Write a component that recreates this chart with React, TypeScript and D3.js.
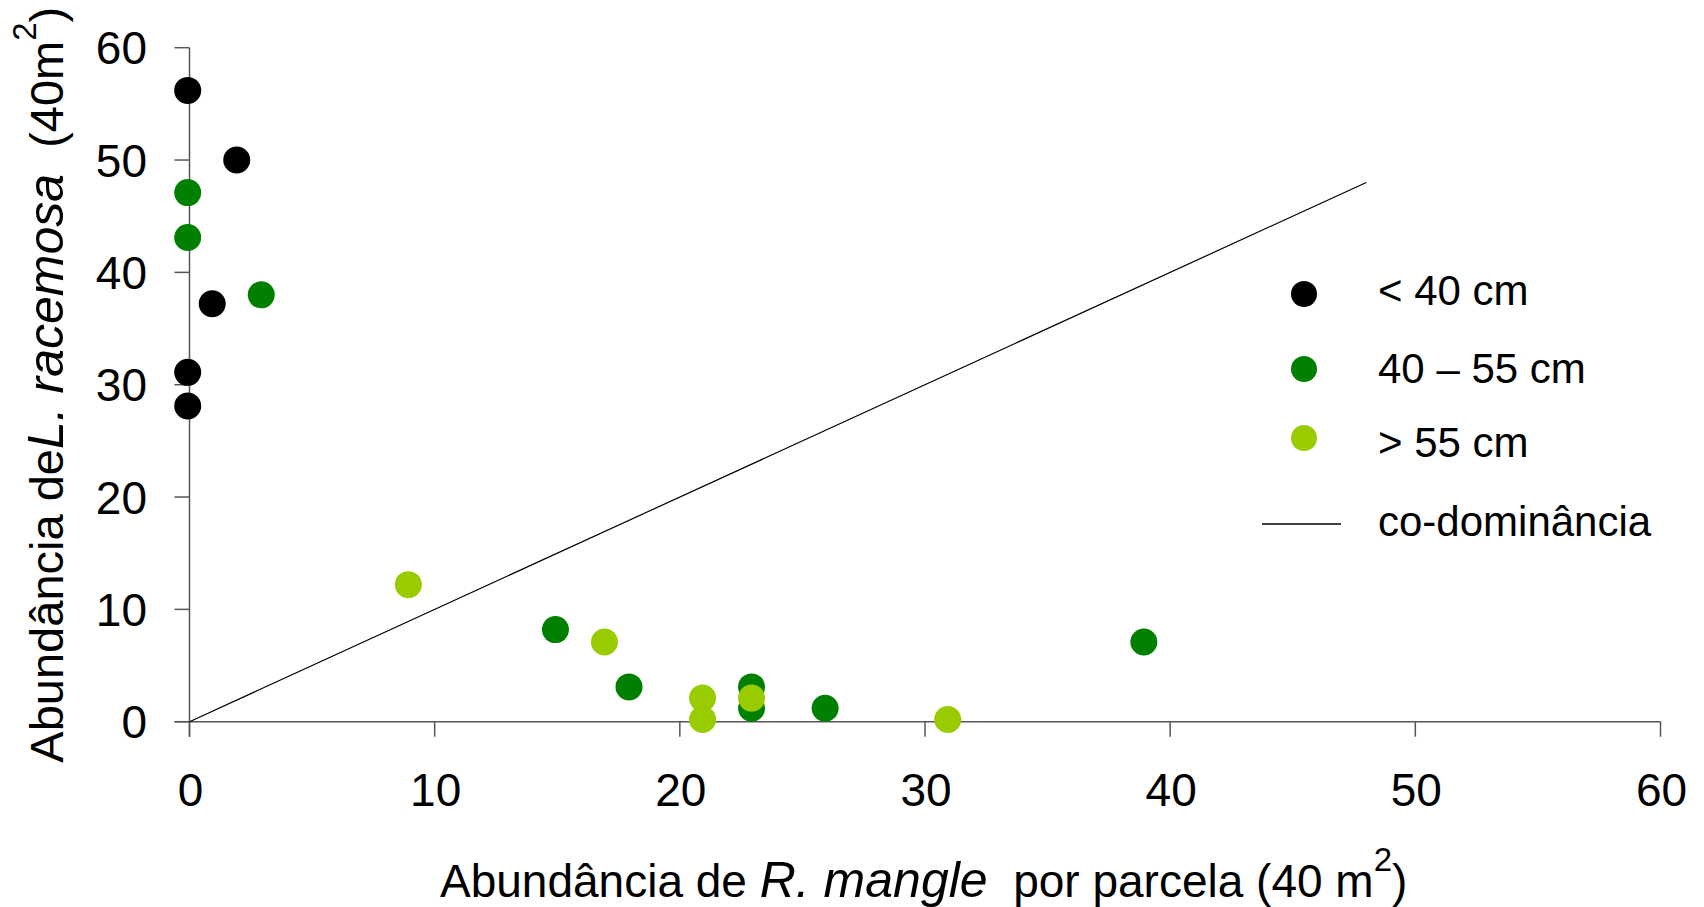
import React from "react";
import * as d3 from "d3";

const xTicks = [0, 10, 20, 30, 40, 50, 60];
const yTicks = [0, 10, 20, 30, 40, 50, 60];

// < 40 cm
const smallX = [0, 2, 1, 0, 0];
const smallY = [56.2, 50.0, 37.2, 31.1, 28.1];
// 40 – 55 cm
const midX = [0, 0, 3, 15, 18, 23, 23, 26, 39];
const midY = [47.1, 43.1, 38.0, 8.2, 3.1, 3.1, 1.2, 1.2, 7.1];
// > 55 cm
const largeX = [9, 17, 21, 21, 23, 31];
const largeY = [12.2, 7.1, 2.1, 0.2, 2.1, 0.2];

const lineX = [0, 48];
const lineY = [0, 48];

const seriesNames = ["< 40 cm", "40 \u2013 55 cm", "> 55 cm"];
const seriesColors = ["#000000", "#008000", "#99CC00"];
const lineName = "co-dominância";

const W = 1704;
const H = 907;
const FONT = "'Liberation Sans', Arial, Helvetica, sans-serif";

export default function App() {
  const x = d3.scaleLinear().domain([0, 60]).range([189.5, 1660.5]);
  const y = d3.scaleLinear().domain([0, 60]).range([721.7, 47.7]);
  const r = 13.5;
  const markerShift = -1.8;

  const series = [
    { xs: smallX, ys: smallY },
    { xs: midX, ys: midY },
    { xs: largeX, ys: largeY },
  ];

  const line = d3
    .line<number>()
    .x((_, i) => x(lineX[i]))
    .y((_, i) => y(lineY[i]));

  const axisColor = "#555";
  const legendY = [294, 369, 438];
  const legendTextY = [305, 383, 457];

  return (
    <svg
      width={W}
      height={H}
      style={{ position: "absolute", left: 0, top: 0, background: "#fff" }}
      fontFamily={FONT}
    >
      <rect x={0} y={0} width={W} height={H} fill="#fff" />
      {/* axes */}
      <line x1={x(0)} x2={x(0)} y1={y(60)} y2={y(0) + 15} stroke={axisColor} strokeWidth={1.5} />
      <line x1={x(0) - 15} x2={x(60)} y1={y(0)} y2={y(0)} stroke={axisColor} strokeWidth={1.5} />
      {yTicks.map((t) => (
        <g key={"yt" + t}>
          <line x1={x(0) - 15} x2={x(0)} y1={y(t)} y2={y(t)} stroke={axisColor} strokeWidth={1.5} />
          <text x={147} y={y(t)} dy="0.36em" textAnchor="end" fontSize={46} fill="#000">
            {t}
          </text>
        </g>
      ))}
      {xTicks.map((t) => (
        <g key={"xt" + t}>
          <line x1={x(t)} x2={x(t)} y1={y(0)} y2={y(0) + 15} stroke={axisColor} strokeWidth={1.5} />
          <text x={x(t) + 1} y={806} textAnchor="middle" fontSize={46} fill="#000">
            {t}
          </text>
        </g>
      ))}

      {/* co-dominance line */}
      <path d={line(lineX) || ""} fill="none" stroke="#000" strokeWidth={1.2} />

      {/* points */}
      {series.map((s, si) =>
        s.xs.map((xv, i) => (
          <circle
            key={si + "-" + i}
            cx={x(xv) + markerShift}
            cy={y(s.ys[i])}
            r={r}
            fill={seriesColors[si]}
          />
        ))
      )}

      {/* axis titles */}
      <text x={440} y={897} fontSize={46} fill="#000">
        <tspan>Abundância de </tspan>
        <tspan fontStyle="italic" fontSize={50}>R. mangle</tspan>
        <tspan>{"\u00a0 por parcela (40 m"}</tspan>
        <tspan fontSize={33} dy={-26}>2</tspan>
        <tspan dy={26}>)</tspan>
      </text>
      <text
        transform={`translate(63, ${(y(0) + y(60)) / 2}) rotate(-90)`}
        textAnchor="middle"
        fontSize={47}
        fill="#000"
      >
        <tspan>Abundância de</tspan>
        <tspan fontStyle="italic" fontSize={50}>L. racemosa</tspan>
        <tspan>{"\u00a0 (40m"}</tspan>
        <tspan fontSize={33} dy={-27}>2</tspan>
        <tspan dy={27}>)</tspan>
      </text>

      {/* legend */}
      {seriesNames.map((n, i) => (
        <g key={"lg" + i}>
          <circle cx={1304} cy={legendY[i]} r={13} fill={seriesColors[i]} />
          <text x={1378} y={legendTextY[i]} fontSize={42} fill="#000">
            {n}
          </text>
        </g>
      ))}
      <line x1={1262} x2={1341} y1={524} y2={524} stroke="#000" strokeWidth={1.5} />
      <text x={1378} y={536} fontSize={42} fill="#000">
        {lineName}
      </text>
    </svg>
  );
}
